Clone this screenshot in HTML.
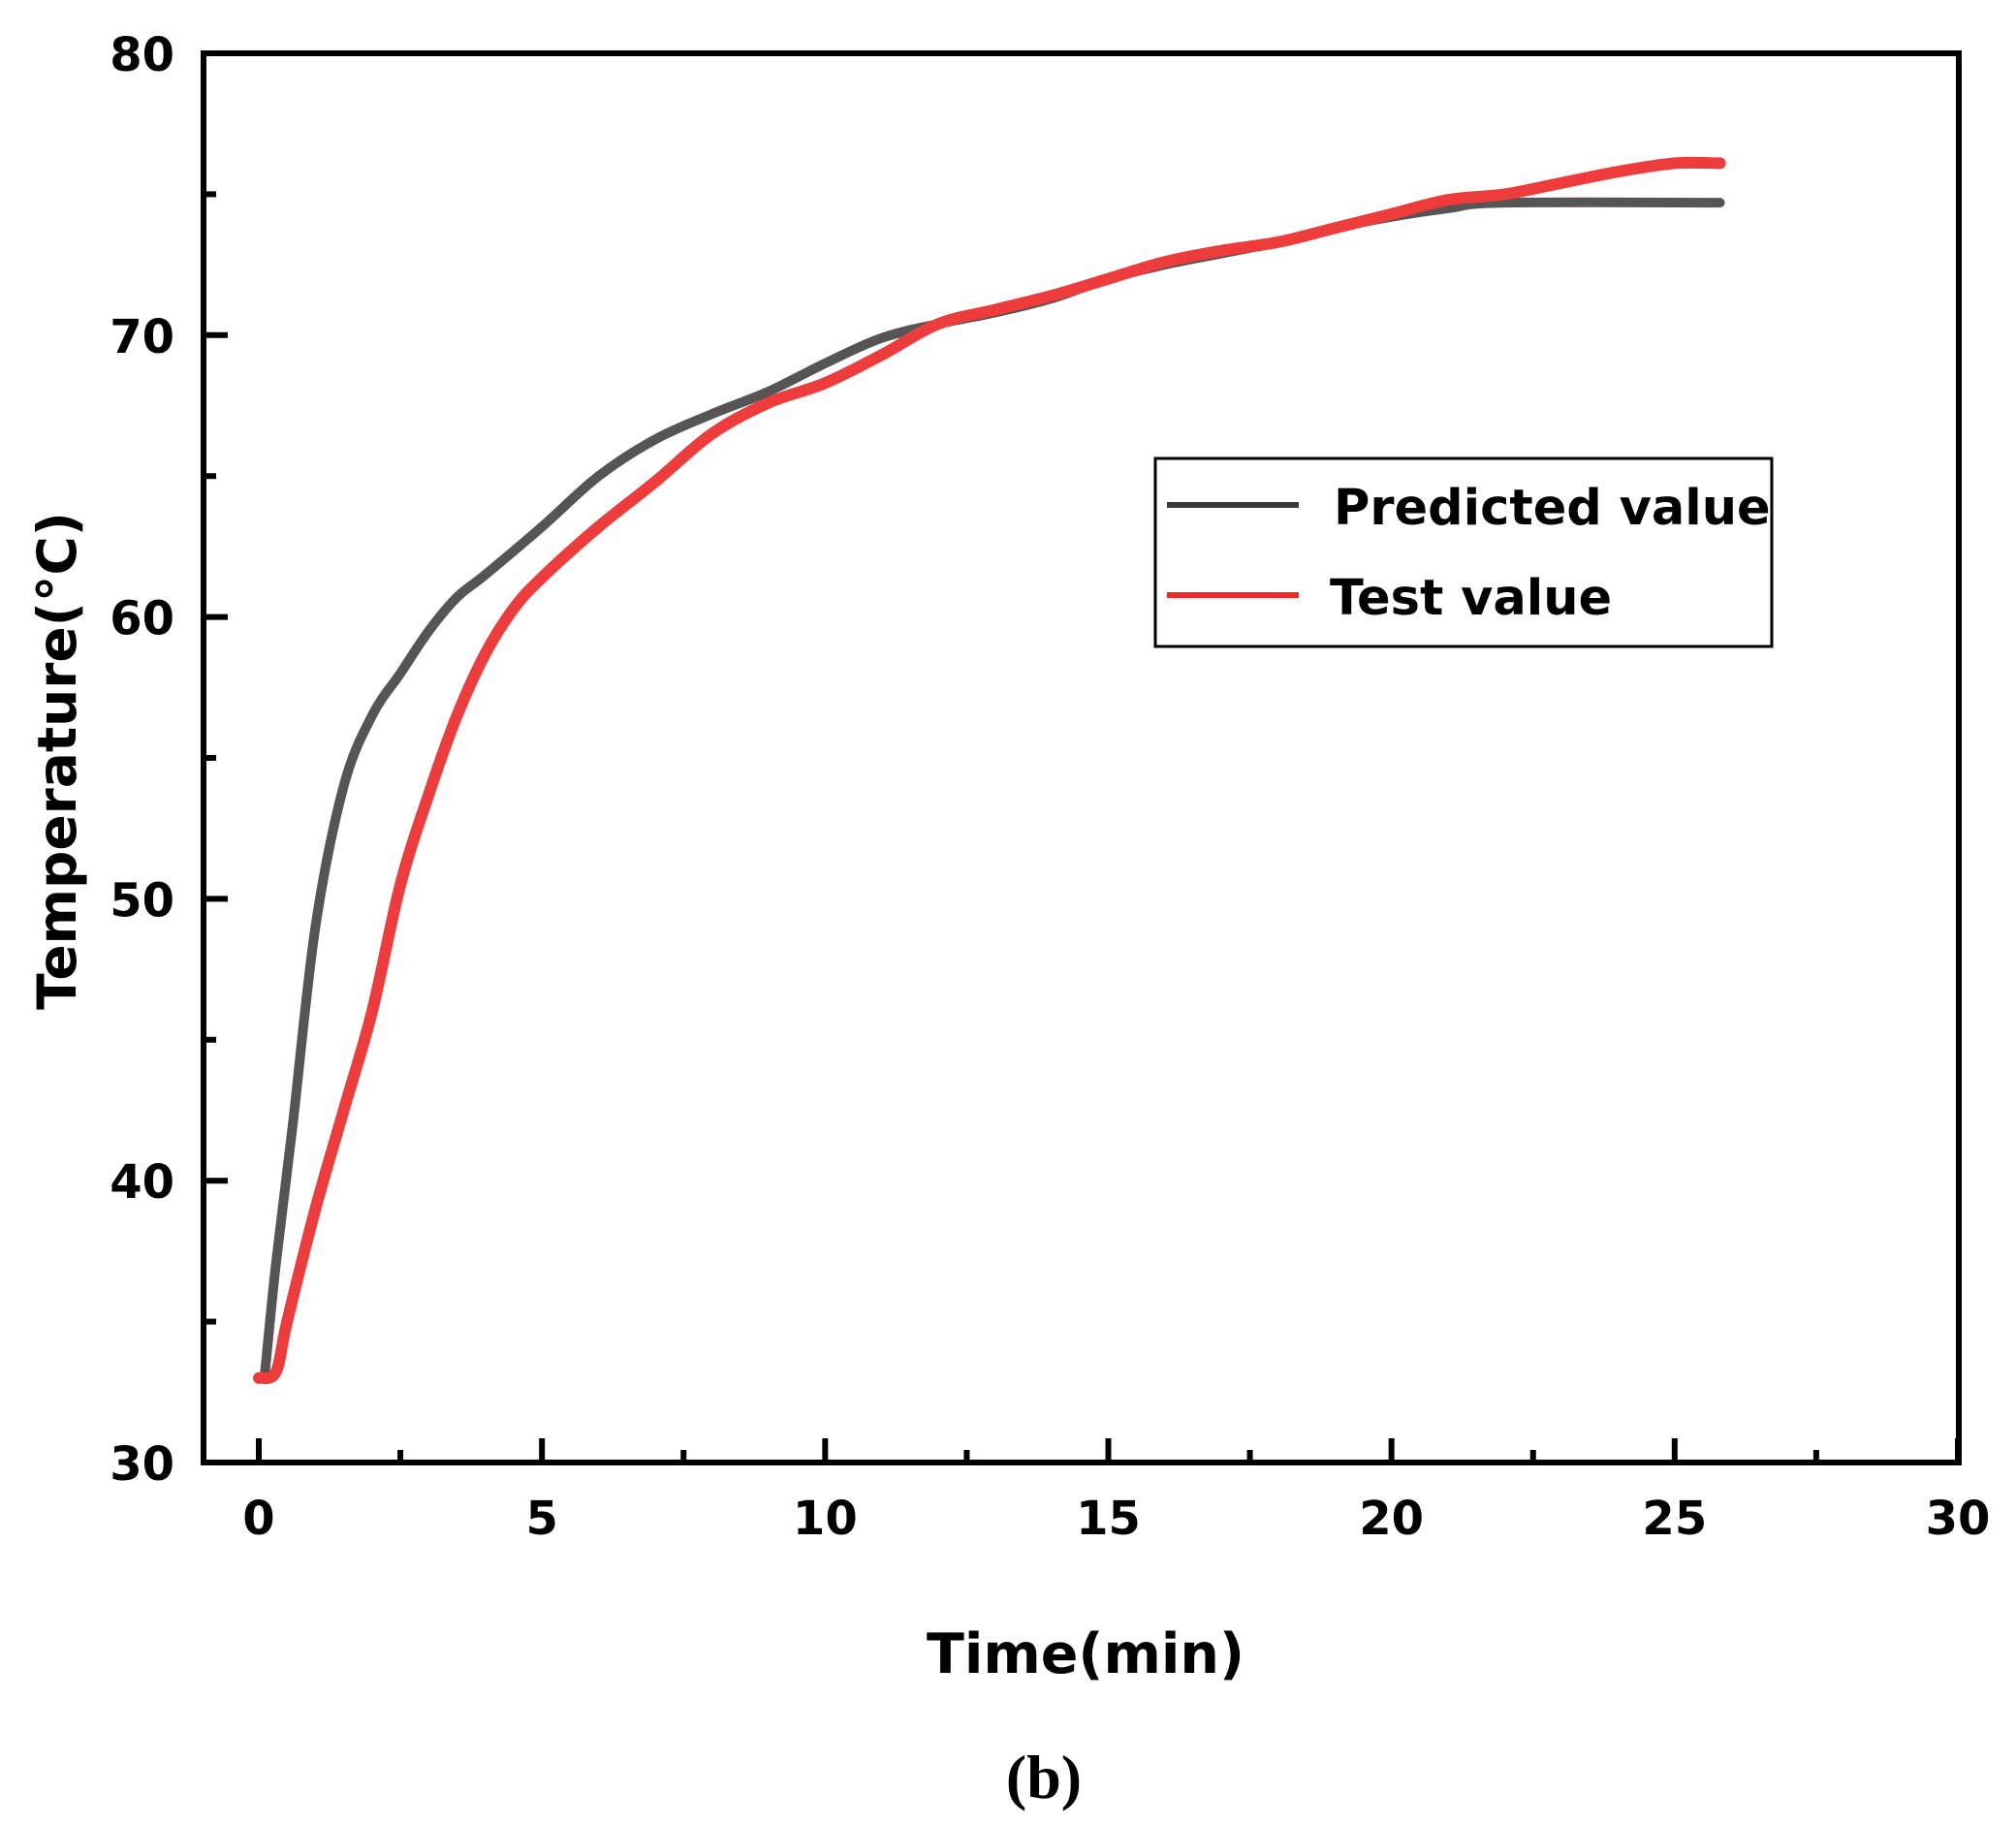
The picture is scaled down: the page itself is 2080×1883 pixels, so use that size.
<!DOCTYPE html>
<html><head><meta charset="utf-8"><style>
html,body{margin:0;padding:0;background:#fff;}
svg text{font-family:"DejaVu Sans","Liberation Sans",sans-serif;font-weight:bold;fill:#000;}
</style></head><body>
<svg id="chart" width="2080" height="1878" xmlns="http://www.w3.org/2000/svg">
<g id="plot"></g>
<text transform="translate(78,785) rotate(-90)" text-anchor="middle" font-size="55">Temperature(°C)</text>
<text x="1120" y="1726" text-anchor="middle" font-size="57">Time(min)</text>
<text x="1077" y="1855" text-anchor="middle" font-size="64" style="font-family:'Liberation Serif',serif;font-weight:bold">(b)</text>
<g>
<rect x="1192" y="473" width="636" height="194" fill="#fff" stroke="#000" stroke-width="3"/>
<line x1="1204" y1="521" x2="1340" y2="521" stroke="#3a3a3a" stroke-width="6"/>
<text x="1376" y="541" font-size="51">Predicted value</text>
<line x1="1204" y1="614" x2="1340" y2="614" stroke="#ee2a2a" stroke-width="6"/>
<text x="1372" y="634" font-size="51">Test value</text>
</g>
</svg>
<script>
const xTicks=[0,5,10,15,20,25,30];
const yTicks=[30,40,50,60,70,80];
const predT=[0.1,0.3,0.6,1,1.5,2,2.5,3,3.5,4,5,6,7,8,9,10,11,12,13,14,15,16,17,18,19,20,21,22,25.8];
const predV=[33,37,42,49,54,56.5,58,59.5,60.7,61.5,63.2,65,66.3,67.2,68,69,69.9,70.4,70.8,71.3,72,72.5,72.9,73.3,73.8,74.2,74.5,74.7,74.7];
const testT=[0,0.3,0.5,1,1.5,2,2.5,3,3.5,4,4.5,5,6,7,8,9,10,11,12,13,14,15,16,17,18,19,20,21,22,23,24,25,25.8];
const testV=[33,33.2,35,39,42.5,46,50.5,53.7,56.5,58.7,60.3,61.4,63.2,64.8,66.5,67.6,68.3,69.3,70.4,70.9,71.4,72,72.6,73,73.3,73.8,74.3,74.8,75,75.4,75.8,76.1,76.1];
const NS='http://www.w3.org/2000/svg';
const L=210,R=2021,T=55,B=1509,x0=267,x30=2020;
const sx=v=>x0+(x30-x0)*v/30;
const sy=v=>B-(B-T)*(v-30)/50;
const g=document.getElementById('plot');
function mk(tag,attrs){const e=document.createElementNS(NS,tag);for(const k in attrs)e.setAttribute(k,attrs[k]);g.appendChild(e);return e;}
function smooth(pts){
 let d='M'+pts[0][0].toFixed(1)+','+pts[0][1].toFixed(1);
 for(let i=0;i<pts.length-1;i++){
  const p0=pts[Math.max(i-1,0)],p1=pts[i],p2=pts[i+1],p3=pts[Math.min(i+2,pts.length-1)];
  const c1=[p1[0]+(p2[0]-p0[0])/6,p1[1]+(p2[1]-p0[1])/6];
  const c2=[p2[0]-(p3[0]-p1[0])/6,p2[1]-(p3[1]-p1[1])/6];
  d+='C'+c1.map(n=>n.toFixed(1)).join(',')+' '+c2.map(n=>n.toFixed(1)).join(',')+' '+p2[0].toFixed(1)+','+p2[1].toFixed(1);
 }
 return d;
}
function line(pts,color,w,name){
 const p=mk('path',{d:smooth(pts),fill:'none',stroke:color,'stroke-width':w,'stroke-linejoin':'round','stroke-linecap':'round'});
 
 
}
line(predT.map((t,i)=>[sx(t),sy(predV[i])]),'#555','10','predicted-series');
line(testT.map((t,i)=>[sx(t),sy(testV[i])]),'#ee3b3b','12','test-series');
const fr=mk('rect',{x:L,y:T,width:R-L,height:B-T,fill:'none',stroke:'#000','stroke-width':6});


xTicks.forEach(v=>{
 const t=mk('line',{x1:sx(v),x2:sx(v),y1:B,y2:B-25,stroke:'#000','stroke-width':6});
 
 
 const m=mk('line',{x1:sx(v+2.5),x2:sx(v+2.5),y1:B,y2:B-13,stroke:'#000','stroke-width':6});
 
 
 const l=mk('text',{x:sx(v),y:B+74,'text-anchor':'middle','font-size':'48'});
 l.textContent=v;
 
 
});
yTicks.forEach(v=>{
 const t=mk('line',{x1:L,x2:L+25,y1:sy(v),y2:sy(v),stroke:'#000','stroke-width':6});
 
 
 if(v<80){const m=mk('line',{x1:L,x2:L+13,y1:sy(v+5),y2:sy(v+5),stroke:'#000','stroke-width':6});
 
 }
 const l=mk('text',{x:180,y:sy(v)+18,'text-anchor':'end','font-size':'48'});
 l.textContent=v;
 
 
});
</script>
</body></html>
